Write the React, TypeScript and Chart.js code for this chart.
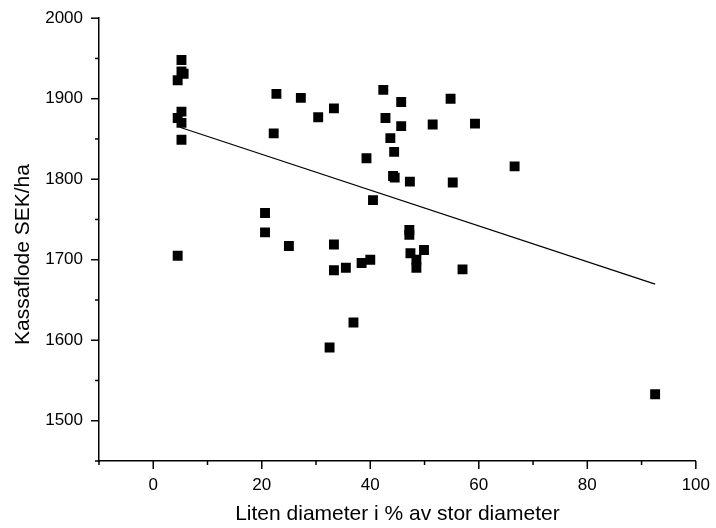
import React, { useEffect, useRef } from 'react';
import { Chart, registerables } from 'chart.js';

Chart.register(...registerables);

// Scatter data: x = Liten diameter i % av stor diameter, y = Kassaflode SEK/ha
const diameterPct = [
  5.2, 5.2, 5.6, 4.5, 5.2, 4.5, 5.2, 5.2, 4.5,
  22.7, 27.2, 30.4, 33.3, 22.2, 20.6, 20.6, 25.0, 33.3, 33.3, 35.5, 36.9, 32.5, 38.4, 40.0,
  42.4, 45.7, 54.8, 42.8, 45.7, 51.5, 59.3, 43.7, 44.4, 39.3, 66.6, 44.2, 44.5, 47.3, 55.2,
  40.5, 47.2, 47.2, 47.4, 49.9, 48.5, 48.5, 57.0, 92.5,
];
const cashFlow = [
  1948, 1934, 1931, 1923, 1884, 1876, 1870, 1849, 1705,
  1906, 1901, 1877, 1888, 1857, 1758, 1734, 1717, 1719, 1687, 1690, 1622, 1591, 1696, 1700,
  1911, 1896, 1900, 1876, 1866, 1868, 1869, 1851, 1834, 1826, 1816, 1804, 1802, 1797, 1796,
  1774, 1737, 1731, 1708, 1712, 1700, 1690, 1688, 1533,
];

// Fitted trend line end points
const trendX = [4.9, 92.5];
const trendY = [1864.6, 1669.7];

const xLabelTicks = [0, 20, 40, 60, 80, 100];
const yLabelTicks = [1500, 1600, 1700, 1800, 1900, 2000];

const xTitle = 'Liten diameter i % av stor diameter';
const yTitle = 'Kassaflode SEK/ha';

const FONT = '"Liberation Sans", Arial, Helvetica, sans-serif';

const axisDecor = {
  id: 'axisDecor',
  afterDraw(chart: any) {
    const ctx = chart.ctx;
    const xs = chart.scales.x;
    const ys = chart.scales.y;
    ctx.save();
    ctx.strokeStyle = '#000';
    ctx.lineWidth = 1.5;
    xs.ticks.forEach((t: any) => {
      const px = xs.getPixelForValue(t.value);
      const len = xLabelTicks.includes(t.value) ? 8 : 4;
      ctx.beginPath();
      ctx.moveTo(px, xs.top);
      ctx.lineTo(px, xs.top + len);
      ctx.stroke();
    });
    ys.ticks.forEach((t: any) => {
      const py = ys.getPixelForValue(t.value);
      const len = yLabelTicks.includes(t.value) ? 8 : 4;
      ctx.beginPath();
      ctx.moveTo(ys.right, py);
      ctx.lineTo(ys.right - len, py);
      ctx.stroke();
    });
    // y axis title
    ctx.fillStyle = '#000';
    ctx.font = '21px ' + FONT;
    ctx.textAlign = 'center';
    ctx.textBaseline = 'middle';
    ctx.translate(23.3, 254.5);
    ctx.rotate(-Math.PI / 2);
    ctx.fillText(yTitle, 0, 0);
    ctx.restore();
  },
};

export default function App() {
  const canvasRef = useRef<HTMLCanvasElement | null>(null);

  useEffect(() => {
    document.body.style.margin = '0';
    const canvas = canvasRef.current;
    if (!canvas) return;
    const points = diameterPct.map((x, i) => ({ x, y: cashFlow[i] }));
    const trend = trendX.map((x, i) => ({ x, y: trendY[i] }));
    const chart = new Chart(canvas, {
      type: 'scatter',
      data: {
        datasets: [
          {
            type: 'line',
            data: trend,
            borderColor: '#000',
            borderWidth: 1.2,
            pointRadius: 0,
            fill: false,
            showLine: true,
          } as any,
          {
            data: points,
            pointStyle: 'rect',
            pointRadius: 7,
            pointHoverRadius: 7,
            pointBackgroundColor: '#000',
            pointBorderWidth: 0,
            borderColor: '#000',
            backgroundColor: '#000',
          },
        ],
      },
      options: {
        animation: false,
        responsive: true,
        maintainAspectRatio: false,
        layout: { padding: { top: 18, right: 17, left: 0, bottom: 0 } },
        plugins: {
          legend: { display: false },
          tooltip: { enabled: false },
        },
        scales: {
          x: {
            type: 'linear',
            min: -10,
            max: 100,
            afterFit: (s: any) => {
              s.height = 67;
            },
            ticks: {
              stepSize: 10,
              autoSkip: false,
              maxRotation: 0,
              padding: 6,
              color: '#000',
              font: { family: FONT, size: 17 },
              callback: (v: any) => (xLabelTicks.includes(Number(v)) ? String(v) : ''),
            },
            grid: {
              drawOnChartArea: false,
              drawTicks: true,
              tickLength: 8,
              color: 'rgba(0,0,0,0)',
              tickColor: 'rgba(0,0,0,0)',
            },
            border: { display: true, color: '#000', width: 1.5 },
            title: {
              display: true,
              text: xTitle,
              color: '#000',
              font: { family: FONT, size: 21 },
              padding: { top: 0, bottom: 1.4 },
            },
          },
          y: {
            type: 'linear',
            min: 1450,
            max: 2000,
            afterFit: (s: any) => {
              s.width = 99;
            },
            ticks: {
              stepSize: 50,
              autoSkip: false,
              padding: 8,
              color: '#000',
              font: { family: FONT, size: 17 },
              callback: (v: any) => (yLabelTicks.includes(Number(v)) ? String(v) : ''),
            },
            grid: {
              drawOnChartArea: false,
              drawTicks: true,
              tickLength: 8,
              color: 'rgba(0,0,0,0)',
              tickColor: 'rgba(0,0,0,0)',
            },
            border: { display: true, color: '#000', width: 1.5 },
          },
        },
      },
      plugins: [axisDecor],
    });
    return () => chart.destroy();
  }, []);

  return (
    <div style={{ width: 716, height: 528, position: 'relative' }}>
      <canvas ref={canvasRef} />
    </div>
  );
}
